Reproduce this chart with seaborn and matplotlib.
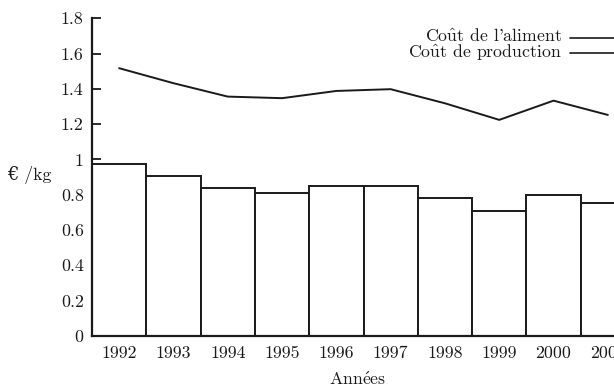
import matplotlib
matplotlib.use("Agg")
import matplotlib.pyplot as plt
from matplotlib.lines import Line2D
import seaborn as sns
import pandas as pd

# Annual costs (€/kg)
years = [1992, 1993, 1994, 1995, 1996, 1997, 1998, 1999, 2000, 2001]
cout_aliment = [0.973, 0.908, 0.838, 0.809, 0.851, 0.851, 0.779, 0.709, 0.798, 0.754]
cout_production = [1.517, 1.432, 1.356, 1.347, 1.388, 1.398, 1.318, 1.224, 1.333, 1.252]
y_ticks = [0, 0.2, 0.4, 0.6, 0.8, 1.0, 1.2, 1.4, 1.6, 1.8]

# Accented letters are set with mathtext so that they stay in Computer Modern
label_aliment = r"Co$\mathrm{\^u}$t de l'aliment"
label_production = r"Co$\mathrm{\^u}$t de production"
label_x = r"Ann$\mathrm{\'e}$es"
label_y = "€ /kg"

df = pd.DataFrame({"annee": years, "aliment": cout_aliment, "production": cout_production})

sns.set_style("ticks")
plt.rcParams["font.family"] = ["cmr10", "DejaVu Serif"]
plt.rcParams["mathtext.fontset"] = "cm"
plt.rcParams["axes.formatter.use_mathtext"] = True
FS = 12.8
INK = "#1a1a1a"

fig = plt.figure(figsize=(6.14, 3.89), dpi=100)
W, H = 614, 389
x0, y0 = 92, 335.7
px_per_year = 54.3
ax = fig.add_axes([x0 / W, (H - y0) / H, 10 * px_per_year / W, 317.4 / H])

sns.barplot(data=df, x="annee", y="aliment", native_scale=True, width=1.0,
            color="white", saturation=1, edgecolor=INK, linewidth=1.4,
            errorbar=None, ax=ax)
sns.lineplot(data=df, x="annee", y="production", color=INK, linewidth=1.4, ax=ax)

ax.set_xlim(1991.5, 2001.5)
ax.set_ylim(0, 1.8)
ax.set_xticks(years)
ax.set_xticklabels([str(y) for y in years])
ax.set_yticks(y_ticks)
ax.set_yticklabels([f"{v:g}" for v in y_ticks])
ax.set_xlabel("")
ax.set_ylabel("")
ax.tick_params(direction="in", length=6.5, width=1.3, color=INK,
               labelsize=FS, labelcolor=INK)
ax.tick_params(axis="y", pad=6)
ax.tick_params(axis="x", pad=7)
for s in ["top", "right"]:
    ax.spines[s].set_visible(False)
for s in ["left", "bottom"]:
    ax.spines[s].set_linewidth(1.6)
    ax.spines[s].set_color(INK)

fig.text(29 / W, 1 - 180.5 / H, label_y, ha="center", va="baseline", fontsize=FS,
         color=INK)
fig.text(358 / W, 1 - 385 / H, label_x, ha="center", va="baseline", fontsize=FS,
         color=INK)

# key in the upper right: both entries set as one right-aligned block
fig.text(562 / W, 1 - 58 / H, label_aliment + "\n" + label_production,
         ha="right", va="baseline", multialignment="right", linespacing=0.86,
         fontsize=FS, color=INK)
for yy in (37.7, 53.3):
    fig.add_artist(Line2D([570 / W, 1.0], [1 - yy / H, 1 - yy / H],
                          color=INK, linewidth=1.2))

fig.savefig("out.png", dpi=100)
